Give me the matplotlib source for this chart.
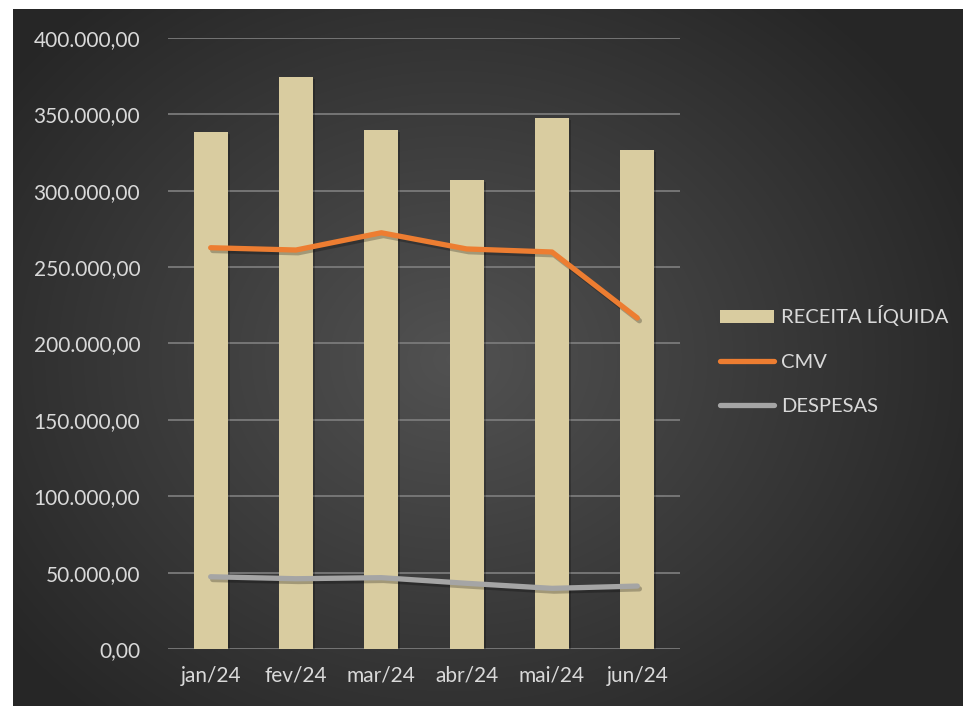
import numpy as np
import matplotlib.pyplot as plt
import matplotlib.patheffects as pe
from matplotlib.ticker import FuncFormatter
from matplotlib.patches import Patch
from matplotlib.lines import Line2D

plt.rcParams['font.family'] = ['Lato', 'DejaVu Sans']

# data
meses = ['jan/24', 'fev/24', 'mar/24', 'abr/24', 'mai/24', 'jun/24']
receita = [338500, 374500, 339800, 307000, 347600, 326700]
cmv = [262700, 261200, 272500, 261900, 259900, 216700]
despesas = [47300, 46000, 46700, 43000, 39700, 41200]

txt = '#d9d9d9'

fig = plt.figure(figsize=(9.63, 7.06), dpi=100, facecolor='white')

# dark radial background
bg = fig.add_axes([13 / 963, 0, 1 - 13 / 963, 1 - 9 / 706])
bg.set_axis_off()
yy, xx = np.mgrid[0:697, 0:950]
r = np.sqrt(((xx - 440) / 560.0) ** 2 + ((yy - 350) / 470.0) ** 2)
r = np.clip(r, 0, 1)
shade = 0.32 - 0.17 * r
bg.imshow(np.dstack([shade, shade, shade]), aspect='auto', extent=[0, 1, 0, 1])
bg.set_xlim(0, 1)
bg.set_ylim(0, 1)

ax = fig.add_axes([168 / 963, 1 - 649 / 706, (680 - 168) / 963, (649 - 38) / 706])
ax.patch.set_visible(False)
x = np.arange(len(meses))

shadow_b = [pe.SimplePatchShadow(offset=(1.5, -1.5), alpha=0.22, shadow_rgbFace='black'), pe.Normal()]
shadow_l = [pe.SimpleLineShadow(offset=(1.5, -2), alpha=0.25, shadow_color='black'), pe.Normal()]

ax.bar(x, receita, width=0.4, color='#d9cca0', zorder=2, path_effects=shadow_b)
ax.plot(x, cmv, color='#ed7d31', lw=3.8, solid_capstyle='round', solid_joinstyle='round',
        zorder=3, path_effects=shadow_l)
ax.plot(x, despesas, color='#a5a5a5', lw=3.8, solid_capstyle='round', solid_joinstyle='round',
        zorder=3, path_effects=shadow_l)

ax.set_xlim(-0.5, 5.5)
ax.set_ylim(0, 400000)
ax.set_yticks(np.arange(0, 400001, 50000))
ax.yaxis.set_major_formatter(FuncFormatter(
    lambda v, p: '{:,.2f}'.format(v).replace(',', 'X').replace('.', ',').replace('X', '.')))
ax.set_xticks(x)
ax.set_xticklabels(meses)
ax.grid(axis='y', color='#7a7a7a', lw=1.3, zorder=1)
for s in ax.spines.values():
    s.set_visible(False)
ax.tick_params(axis='both', length=0, labelcolor=txt, labelsize=15)
ax.tick_params(axis='y', pad=20)
ax.tick_params(axis='x', pad=12)

handles = [
    Patch(facecolor='#d9cca0', edgecolor='none', label='RECEITA LÍQUIDA'),
    Line2D([], [], color='#ed7d31', lw=3.8, solid_capstyle='round', label='CMV'),
    Line2D([], [], color='#a5a5a5', lw=3.8, solid_capstyle='round', label='DESPESAS'),
]
fig.legend(handles=handles, loc='center left', bbox_to_anchor=(720 / 963, 1 - 360 / 706),
           frameon=False, fontsize=14.5, labelcolor=txt, handlelength=2.7, handleheight=0.6,
           handletextpad=0.35, labelspacing=1.35, borderpad=0, borderaxespad=0)

fig.savefig('out.png', dpi=100, facecolor='white')
